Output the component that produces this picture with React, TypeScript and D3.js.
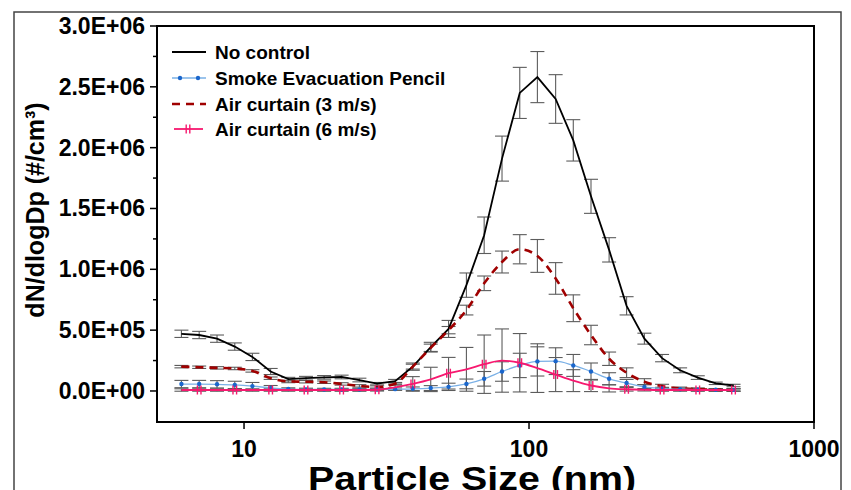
import * as d3 from "d3";

// particle size bins (nm)
const sizes = [6.03, 6.96, 8.04, 9.28, 10.7, 12.4, 14.3, 16.5, 19.1, 22.0, 25.4, 29.3, 33.9, 39.1, 45.2, 52.2,
  60.3, 69.6, 80.4, 92.8, 107, 124, 143, 165, 191, 220, 254, 293, 339, 391, 452, 522];

// dN/dlogDp (#/cm3)
const noControl = [4.7e5, 4.6e5, 4.3e5, 3.65e5, 2.8e5, 1.6e5, 0.97e5, 1.05e5, 1.12e5, 1.15e5, 0.9e5, 0.6e5, 0.8e5,
  2.0e5, 3.6e5, 5.1e5, 8.7e5, 1.28e6, 1.91e6, 2.45e6, 2.58e6, 2.4e6, 2.06e6, 1.6e6, 1.16e6, 7.0e5, 4.3e5,
  2.7e5, 1.7e5, 1.1e5, 6.3e4, 4.5e4];
const noControlErr = [3e4, 3e4, 3e4, 3e4, 3e4, 2.5e4, 1.5e4, 1.5e4, 1.5e4, 1.5e4, 1.5e4, 1e4, 1.5e4, 3e4, 4e4, 7e4,
  1.0e5, 1.5e5, 1.85e5, 2.1e5, 2.1e5, 2.0e5, 1.7e5, 1.4e5, 1.0e5, 7.5e4, 4.5e4, 3e4, 2e4, 1.5e4, 1e4, 1e4];

const pencil = [5.7e4, 5.7e4, 5.5e4, 5.0e4, 4.0e4, 2.5e4, 1.6e4, 1.3e4, 1.2e4, 1.2e4, 1.2e4, 1.3e4, 1.5e4, 1.8e4,
  2.4e4, 3.4e4, 5.8e4, 1.0e5, 1.6e5, 2.1e5, 2.43e5, 2.45e5, 2.1e5, 1.6e5, 1.0e5, 6.5e4, 3.3e4, 2.0e4, 1.4e4,
  1.1e4, 1.0e4, 9e3];
const pencilErr = [3e4, 3e4, 3e4, 3e4, 3e4, 2e4, 1e4, 1e4, 1e4, 1e4, 1e4, 1e4, 1e4, 1.5e4, 2e4, 3e4, 4e4, 6e4,
  8e4, 1.0e5, 1.2e5, 1.1e5, 9e4, 7e4, 5e4, 3e4, 2e4, 1e4, 1e4, 1e4, 1e4, 1e4];

const air3 = [2.0e5, 1.95e5, 1.9e5, 1.85e5, 1.65e5, 1.05e5, 7.8e4, 7.6e4, 7.2e4, 5.8e4, 4.2e4, 3.2e4, 6.0e4,
  2.0e5, 3.55e5, 5.0e5, 6.65e5, 8.85e5, 1.06e6, 1.165e6, 1.11e6, 9.25e5, 6.8e5, 4.6e5, 2.65e5, 1.5e5, 7.6e4,
  4.0e4, 2.2e4, 1.5e4, 1.0e4, 8e3];
const air3Err = [1e4, 1e4, 1e4, 1e4, 1e4, 1e4, 1e4, 1e4, 1e4, 1e4, 1e4, 1e4, 1e4, 2e4, 3e4, 3e4, 4e4, 6e4, 9e4,
  1.2e5, 1.35e5, 1.3e5, 1.1e5, 8e4, 5.5e4, 4e4, 2.5e4, 1.5e4, 1e4, 1e4, 1e4, 1e4];

const air6 = [8e3, 8e3, 8e3, 8e3, 8e3, 8e3, 8e3, 8e3, 8e3, 8e3, 8e3, 1.0e4, 3.0e4, 5.8e4, 9.5e4, 1.46e5, 1.78e5,
  2.2e5, 2.5e5, 2.32e5, 1.88e5, 1.35e5, 8.5e4, 4.5e4, 2.2e4, 1.4e4, 1.0e4, 8e3, 8e3, 8e3, 8e3, 8e3];
const air6Err = [1e4, 1e4, 1e4, 1e4, 1e4, 1e4, 1e4, 1e4, 1e4, 1e4, 1e4, 1e4, 2e4, 6e4, 1.0e5, 1.3e5, 1.8e5, 2.4e5,
  2.6e5, 2.4e5, 2.0e5, 1.4e5, 9e4, 5e4, 3e4, 1.5e4, 1e4, 1e4, 1e4, 1e4, 1e4, 1e4];

const yTicks = [0, 5e5, 1e6, 1.5e6, 2e6, 2.5e6, 3e6];
const yTickLabels = ["0.0E+00", "5.0E+05", "1.0E+06", "1.5E+06", "2.0E+06", "2.5E+06", "3.0E+06"];
const yMinorTicks = [2.5e5, 7.5e5, 1.25e6, 1.75e6, 2.25e6, 2.75e6];
const xTicks = [10, 100, 1000];
const legendLabels = ["No control", "Smoke Evacuation Pencil", "Air curtain (3 m/s)", "Air curtain (6 m/s)"];

const FONT = "'Liberation Sans', Arial, Helvetica, sans-serif";
const left = 157, right = 814, top = 26, bottom = 422;

const BLACK = "#000000";
const RED = "#a00000";
const BLUE_LINE = "#7ab0e6";
const BLUE_DOT = "#1a66cc";
const PINK = "#f7186f";
const ERR = "#5c5c5c";

function PinkMark({ cx, cy }: { cx: number; cy: number }) {
  return (
    <g stroke={PINK} strokeWidth={1.4}>
      <line x1={cx - 1.8} x2={cx - 1.8} y1={cy - 4.5} y2={cy + 4.5} />
      <line x1={cx + 1.8} x2={cx + 1.8} y1={cy - 4.5} y2={cy + 4.5} />
    </g>
  );
}

export default function App() {
  const x = d3.scaleLog().domain([4.95, 1000]).range([left, right]);
  const y = d3.scaleLinear().domain([-2.55e5, 3.0e6]).range([bottom, top]);

  const pts = (vals: number[]) => vals.map((v, i) => [x(sizes[i]), y(v)] as [number, number]);
  const straight = d3.line();
  const smooth = d3.line().curve(d3.curveMonotoneX);

  const errSets: [number[], number[]][] = [
    [noControl, noControlErr],
    [air3, air3Err],
    [pencil, pencilErr],
    [air6, air6Err],
  ];

  const legendY = [52, 78, 104, 129];

  return (
    <svg width={851} height={490} style={{ position: "absolute", left: 0, top: 0, background: "#fff" }}
      fontFamily={FONT} fontWeight="bold">
      {/* figure border */}
      <rect x={14} y={12} width={827} height={490} fill="none" stroke="#444" strokeWidth={1.5} />

      {/* error bars */}
      {errSets.map(([vals, errs], s) => (
        <g key={s} stroke={ERR} strokeWidth={1.1}>
          {vals.map((v, i) => {
            const cx = x(sizes[i]);
            const y1 = y(v + errs[i]);
            const y2 = y(v - errs[i]);
            return (
              <g key={i}>
                <line x1={cx} x2={cx} y1={y1} y2={y2} />
                <line x1={cx - 7} x2={cx + 7} y1={y1} y2={y1} />
                <line x1={cx - 7} x2={cx + 7} y1={y2} y2={y2} />
              </g>
            );
          })}
        </g>
      ))}

      {/* series */}
      <path d={straight(pts(noControl)) || ""} fill="none" stroke={BLACK} strokeWidth={1.8} />
      <path d={smooth(pts(air3)) || ""} fill="none" stroke={RED} strokeWidth={2.6} strokeDasharray="8,6" />
      <path d={smooth(pts(pencil)) || ""} fill="none" stroke={BLUE_LINE} strokeWidth={1.3} />
      {pencil.map((v, i) => (
        <circle key={i} cx={x(sizes[i])} cy={y(v)} r={2.2} fill={BLUE_DOT} />
      ))}
      <path d={smooth(pts(air6)) || ""} fill="none" stroke={PINK} strokeWidth={1.8} />
      {air6.map((v, i) => (i % 2 === 1 ? <PinkMark key={i} cx={x(sizes[i])} cy={y(v)} /> : null))}

      {/* frame */}
      <rect x={left} y={top} width={right - left} height={bottom - top} fill="none" stroke="#000" strokeWidth={2} />

      {/* y axis */}
      {yTicks.map((t, i) => (
        <g key={t}>
          <line x1={left - 7} x2={left} y1={y(t)} y2={y(t)} stroke="#000" strokeWidth={1.5} />
          <text x={145} y={y(t) + 8} textAnchor="end" fontSize={23}>{yTickLabels[i]}</text>
        </g>
      ))}
      {yMinorTicks.map((t) => (
        <line key={t} x1={left - 4} x2={left} y1={y(t)} y2={y(t)} stroke="#000" strokeWidth={1.5} />
      ))}
      <text transform={`translate(44,${(top + bottom) / 2 - 14}) rotate(-90)`} textAnchor="middle" fontSize={25}>
        dN/dlogDp (#/cm³)
      </text>

      {/* x axis */}
      {xTicks.map((t) => (
        <g key={t}>
          <line x1={x(t)} x2={x(t)} y1={bottom} y2={bottom + 7} stroke="#000" strokeWidth={1.5} />
          <text x={x(t)} y={457} textAnchor="middle" fontSize={23}>{t}</text>
        </g>
      ))}
      <text x={472} y={490} textAnchor="middle" fontSize={33} textLength={328} lengthAdjust="spacingAndGlyphs">
        Particle Size (nm)
      </text>

      {/* legend */}
      <g fontSize={19}>
        <line x1={172} x2={206} y1={legendY[0]} y2={legendY[0]} stroke={BLACK} strokeWidth={1.8} />
        <line x1={172} x2={206} y1={legendY[1]} y2={legendY[1]} stroke={BLUE_LINE} strokeWidth={1.3} />
        <circle cx={180} cy={legendY[1]} r={2.2} fill={BLUE_DOT} />
        <circle cx={198} cy={legendY[1]} r={2.2} fill={BLUE_DOT} />
        <line x1={172} x2={206} y1={legendY[2]} y2={legendY[2]} stroke={RED} strokeWidth={2.6} strokeDasharray="8,6" />
        <line x1={174} x2={203} y1={legendY[3]} y2={legendY[3]} stroke={PINK} strokeWidth={1.8} />
        <PinkMark cx={188} cy={legendY[3]} />
        {legendLabels.map((l, i) => (
          <text key={l} x={215} y={legendY[i] + 7}>{l}</text>
        ))}
      </g>
    </svg>
  );
}
